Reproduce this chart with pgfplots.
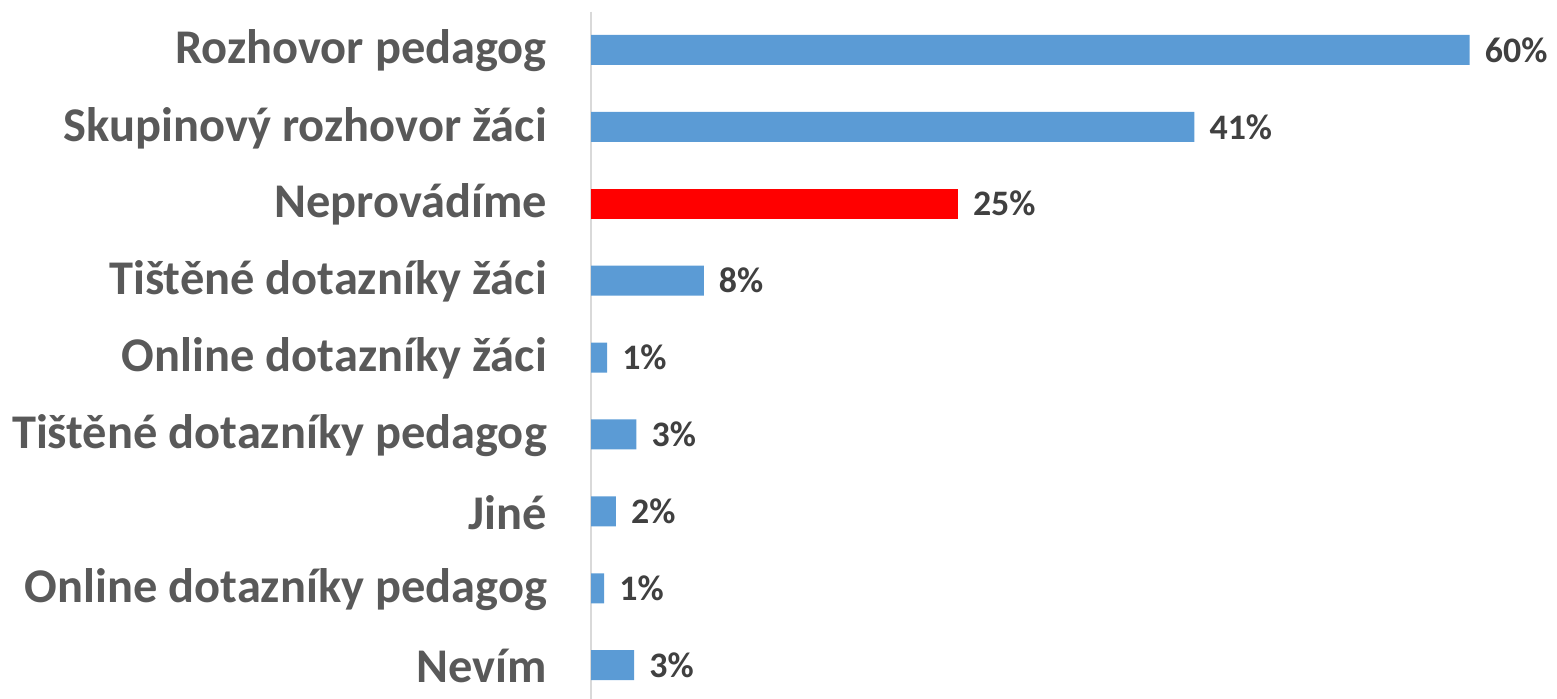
\documentclass[border=0pt]{standalone}
\usepackage{fontspec}
\setmainfont{Carlito}
\usepackage{pgfplots}
\pgfplotsset{compat=1.18}
\definecolor{barblue}{HTML}{5B9BD5}
\definecolor{barred}{HTML}{FF0000}
\definecolor{axgray}{HTML}{D9D9D9}
\definecolor{lblgray}{HTML}{595959}
\definecolor{valgray}{HTML}{404040}
\begin{document}
\begin{tikzpicture}
\useasboundingbox (0,0) rectangle (1557bp,699bp);
\begin{axis}[
 at={(591bp,687.5bp)}, anchor=north west,
 scale only axis, width=908bp, height=692.1bp,
 xmin=0, xmax=62, ymin=-0.5, ymax=8.5, y dir=reverse,
 xbar, bar width=30bp, bar shift=0pt,
 axis x line=none, axis y line=left,
 y axis line style={-, draw=axgray, line width=2bp},
 ytick={0,...,8},
 yticklabels={Rozhovor pedagog, Skupinový rozhovor žáci, Neprovádíme, Tištěné dotazníky žáci, Online dotazníky žáci, Tištěné dotazníky pedagog, Jiné, Online dotazníky pedagog, Nevím},
 major tick length=0,
 yticklabel style={font=\fontsize{48.6}{58}\selectfont\bfseries, text=lblgray, anchor=east, inner sep=0pt, xshift=-44bp, yshift=-1bp},
 nodes near coords={\pgfmathprintnumber[fixed,precision=0,assume math mode=true]{\pgfplotspointmeta}\%},
 nodes near coords style={font=\fontsize{36}{43}\selectfont\bfseries, text=valgray, anchor=west, inner sep=0pt, xshift=15bp},
 clip=false,
]
\addplot[fill=barblue, draw=none] coordinates {(60,0) (41.2,1) (7.7,3) (1.1,4) (3.1,5) (1.7,6) (0.9,7) (2.95,8)};
\addplot[fill=barred, draw=none] coordinates {(25.05,2)};
\end{axis}
\end{tikzpicture}
\end{document}
